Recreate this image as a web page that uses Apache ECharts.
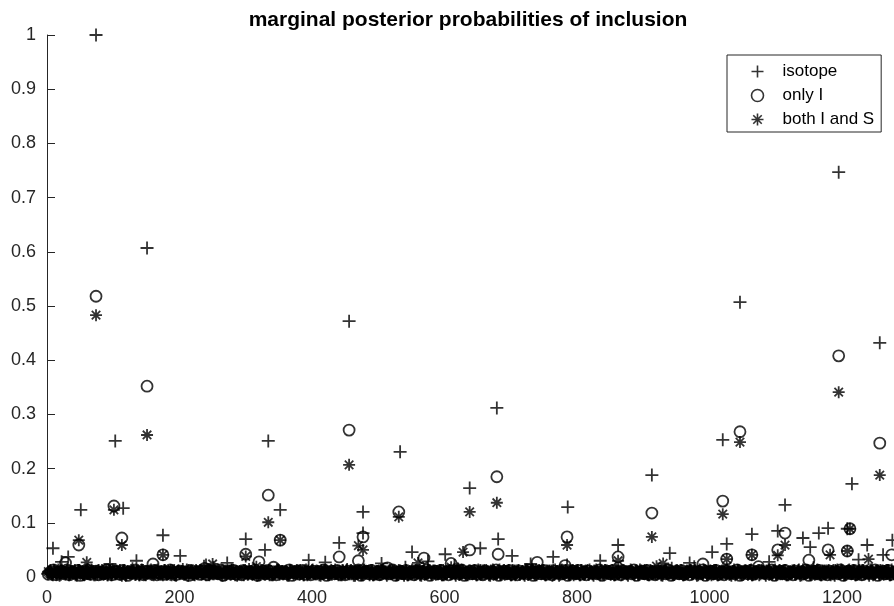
<!DOCTYPE html>
<html>
<head>
<meta charset="utf-8">
<script src="https://cdn.jsdelivr.net/npm/echarts@6/dist/echarts.min.js"></script>
<style>html,body{margin:0;padding:0;background:#fff}#chart{width:894px;height:606px}</style>
</head>
<body>
<div id="chart"></div>
<script>
// ---- data ----
const titleText = 'marginal posterior probabilities of inclusion';
const seriesNames = ['isotope', 'only I', 'both I and S'];
const xTicks = [0, 200, 400, 600, 800, 1000, 1200];

// prominent points (variable index, probability)
const isotopePeakX = [74, 151, 103, 334, 456, 533, 679, 1046, 1195, 1257, 1020, 913, 638, 786, 1114, 1215, 51, 115, 352, 477, 477, 9, 175, 300, 329, 32, 201, 441, 551, 601, 654, 681, 702, 764, 862, 940, 1004, 1026, 1064, 1103, 1141, 1152, 1165, 1179, 1208, 1238, 1262, 1276, 22, 95, 135, 240, 272, 395, 420, 505, 575, 730, 835, 970, 1090, 1225];
const isotopePeakY = [1.0, 0.607, 0.251, 0.251, 0.472, 0.231, 0.312, 0.507, 0.747, 0.432, 0.253, 0.188, 0.164, 0.129, 0.133, 0.172, 0.124, 0.127, 0.124, 0.120, 0.081, 0.053, 0.077, 0.070, 0.050, 0.037, 0.039, 0.063, 0.046, 0.042, 0.053, 0.070, 0.039, 0.037, 0.059, 0.044, 0.046, 0.061, 0.079, 0.085, 0.072, 0.055, 0.081, 0.090, 0.089, 0.059, 0.041, 0.068, 0.028, 0.024, 0.030, 0.022, 0.026, 0.031, 0.027, 0.025, 0.029, 0.024, 0.030, 0.026, 0.028, 0.032];

const onlyIPeakX = [74, 151, 456, 679, 334, 1195, 1046, 1257, 1020, 913, 101, 113, 531, 785, 477, 48, 175, 300, 352, 441, 638, 681, 569, 862, 1026, 1064, 1114, 1103, 1179, 1212, 1208, 1275, 28, 160, 320, 470, 610, 740, 990, 1150];
const onlyIPeakY = [0.518, 0.352, 0.271, 0.185, 0.151, 0.408, 0.268, 0.247, 0.140, 0.118, 0.131, 0.072, 0.120, 0.074, 0.074, 0.059, 0.041, 0.042, 0.068, 0.037, 0.050, 0.042, 0.035, 0.037, 0.033, 0.041, 0.081, 0.050, 0.050, 0.089, 0.048, 0.041, 0.026, 0.024, 0.028, 0.030, 0.025, 0.027, 0.024, 0.031];

const bothPeakX = [74, 151, 456, 334, 679, 638, 1195, 1046, 1257, 1020, 913, 101, 113, 531, 785, 477, 48, 175, 352, 628, 1026, 1064, 1114, 1182, 1212, 1208, 1103, 300, 470, 862, 1240, 60, 250, 560, 930];
const bothPeakY = [0.483, 0.262, 0.207, 0.101, 0.137, 0.120, 0.341, 0.249, 0.188, 0.116, 0.074, 0.124, 0.059, 0.111, 0.059, 0.050, 0.068, 0.041, 0.068, 0.046, 0.033, 0.041, 0.059, 0.041, 0.089, 0.048, 0.040, 0.038, 0.058, 0.030, 0.033, 0.027, 0.024, 0.026, 0.025];

// the dense band of near-zero probabilities (variables sampled every 4th index)
const bandStep = 4;
const isotopeBand = [
.006,.012,.004,.009,.013,.005,.008,.011,.004,.010,.007,.003,.012,.008,.005,.014,.006,.009,.004,.011,
.008,.005,.010,.013,.004,.009,.011,.006,.003,.012,.009,.007,.015,.005,.010,.008,.012,.004,.009,.013,
.004,.011,.006,.009,.012,.005,.008,.011,.004,.010,.007,.014,.008,.003,.011,.006,.012,.008,.005,.020,
.011,.004,.009,.013,.007,.010,.003,.011,.008,.005,.012,.009,.006,.011,.004,.008,.014,.007,.010,.003,
.008,.012,.005,.009,.011,.004,.007,.013,.008,.006,.011,.003,.010,.008,.012,.005,.009,.011,.004,.008,
.013,.006,.010,.003,.011,.008,.005,.012,.009,.007,.010,.004,.008,.014,.006,.010,.003,.011,.008,.005,
.010,.007,.012,.004,.009,.011,.006,.008,.003,.013,.008,.010,.005,.011,.007,.018,.004,.009,.011,.006,
.008,.003,.013,.008,.010,.005,.011,.007,.012,.004,.009,.011,.006,.008,.003,.014,.008,.010,.005,.011,
.007,.012,.004,.009,.011,.006,.008,.003,.013,.008,.010,.005,.011,.007,.012,.004,.009,.011,.006,.008,
.003,.013,.008,.010,.005,.011,.007,.012,.004,.009,.011,.006,.008,.003,.013,.008,.022,.005,.011,.007,
.012,.004,.009,.011,.006,.008,.003,.013,.008,.010,.005,.011,.007,.012,.004,.009,.011,.006,.008,.003,
.013,.008,.010,.005,.011,.007,.012,.004,.009,.011,.006,.008,.003,.013,.008,.010,.005,.011,.007,.012,
.004,.009,.011,.006,.019,.003,.013,.008,.010,.005,.011,.007,.012,.004,.009,.011,.006,.008,.003,.013,
.008,.010,.005,.011,.007,.012,.004,.009,.011,.006,.008,.003,.013,.008,.010,.005,.011,.007,.012,.004,
.009,.011,.006,.008,.003,.013,.008,.010,.005,.017,.007,.012,.004,.009,.011,.006,.008,.003,.013,.008,
.010,.005,.011,.007,.012,.004,.009,.011,.006,.008,.003,.013,.008,.010,.005,.011,.007,.012,.004,.009];
const isotopeBand2 = [
.009,.005,.012,.007,.003,.011,.008,.014,.006,.010,.004,.012,.009,.005,.011,.007,.013,.004,.010,.006,
.012,.008,.004,.010,.013,.006,.009,.005,.011,.003,.008,.012,.007,.010,.004,.013,.006,.009,.011,.005,
.007,.013,.009,.004,.010,.006,.012,.008,.003,.011,.009,.005,.013,.007,.010,.004,.008,.012,.006,.009,
.005,.010,.017,.008,.012,.004,.009,.006,.011,.013,.007,.003,.010,.008,.012,.005,.009,.006,.011,.004,
.012,.006,.009,.011,.004,.008,.013,.005,.010,.007,.003,.012,.009,.006,.011,.008,.004,.013,.007,.010,
.006,.011,.004,.008,.012,.009,.005,.010,.013,.007,.004,.011,.008,.006,.012,.003,.009,.010,.005,.013,
.009,.004,.012,.007,.010,.005,.013,.008,.006,.011,.009,.004,.012,.007,.003,.010,.008,.013,.005,.011,
.004,.010,.006,.013,.008,.011,.005,.009,.012,.004,.007,.010,.006,.021,.009,.005,.012,.008,.004,.011,
.010,.007,.013,.005,.009,.012,.004,.008,.011,.006,.013,.009,.005,.010,.007,.012,.004,.011,.008,.006,
.013,.005,.010,.008,.004,.012,.009,.006,.011,.007,.003,.013,.010,.005,.008,.012,.006,.009,.004,.011,
.007,.012,.005,.010,.013,.006,.008,.011,.004,.009,.012,.007,.005,.010,.013,.008,.004,.011,.006,.009,
.011,.004,.009,.013,.007,.010,.005,.012,.008,.006,.011,.004,.009,.013,.007,.016,.005,.012,.008,.010,
.005,.009,.012,.006,.011,.004,.008,.013,.010,.007,.004,.012,.009,.005,.011,.008,.013,.006,.010,.004,
.012,.008,.005,.011,.009,.013,.006,.010,.004,.012,.007,.009,.011,.005,.013,.008,.006,.010,.012,.004,
.008,.011,.006,.013,.004,.009,.012,.007,.010,.005,.013,.008,.011,.006,.009,.004,.012,.010,.007,.013,
.004,.010,.013,.007,.011,.005,.009,.012,.006,.008,.013,.004,.010,.011,.007,.005,.012,.009,.013,.006];
const onlyIBand = [
.005,.010,.013,.004,.008,.011,.006,.013,.004,.009,.007,.012,.003,.010,.006,.012,.005,.008,.011,.004,
.009,.006,.013,.007,.004,.011,.010,.005,.012,.007,.003,.010,.008,.013,.006,.009,.004,.011,.007,.010,
.012,.004,.007,.010,.005,.009,.013,.007,.004,.010,.011,.006,.008,.003,.012,.007,.010,.005,.009,.016,
.004,.011,.007,.010,.006,.013,.003,.008,.011,.006,.012,.005,.009,.004,.011,.007,.010,.006,.013,.003,
.008,.011,.006,.012,.005,.018,.004,.011,.007,.010,.006,.013,.003,.008,.011,.006,.012,.005,.009,.004,
.011,.007,.010,.006,.013,.003,.008,.011,.006,.012,.005,.009,.004,.011,.007,.010,.006,.013,.003,.008,
.011,.006,.012,.005,.009,.004,.011,.007,.017,.006,.013,.003,.008,.011,.006,.012,.005,.009,.004,.011,
.007,.010,.006,.013,.003,.008,.011,.006,.012,.005,.009,.004,.011,.007,.010,.006,.013,.003,.008,.011,
.006,.012,.005,.009,.004,.011,.007,.010,.006,.013,.003,.008,.011,.006,.012,.005,.009,.004,.011,.007,
.010,.006,.013,.003,.008,.011,.006,.012,.005,.009,.004,.011,.007,.010,.006,.021,.003,.008,.011,.006,
.012,.005,.009,.004,.011,.007,.010,.006,.013,.003,.008,.011,.006,.012,.005,.009,.004,.011,.007,.010,
.006,.013,.003,.008,.011,.006,.012,.005,.009,.004,.011,.007,.010,.006,.013,.003,.008,.011,.006,.012,
.005,.009,.004,.011,.007,.010,.006,.013,.003,.008,.011,.006,.012,.005,.009,.004,.011,.007,.010,.006,
.013,.003,.008,.011,.006,.012,.005,.009,.019,.011,.007,.010,.006,.013,.003,.008,.011,.006,.012,.005,
.009,.004,.011,.007,.010,.006,.013,.003,.008,.011,.006,.012,.005,.009,.004,.011,.007,.010,.006,.013,
.003,.008,.011,.006,.012,.005,.009,.004,.011,.007,.010,.006,.013,.003,.008,.011,.006,.012,.005,.009];
const bothBand = [
.007,.004,.011,.006,.012,.009,.004,.011,.007,.010,.005,.013,.008,.003,.011,.006,.012,.007,.004,.010,
.011,.006,.003,.013,.009,.005,.010,.007,.012,.004,.010,.006,.011,.008,.003,.013,.006,.010,.005,.009,
.012,.007,.004,.010,.006,.011,.003,.013,.008,.005,.010,.006,.012,.009,.004,.010,.007,.011,.006,.003,
.013,.008,.005,.010,.006,.012,.004,.009,.011,.007,.003,.010,.006,.013,.008,.005,.010,.006,.019,.004,
.009,.011,.007,.003,.010,.006,.013,.008,.005,.010,.006,.012,.004,.009,.011,.007,.003,.010,.006,.013,
.008,.005,.010,.006,.012,.004,.009,.011,.007,.003,.010,.006,.013,.008,.005,.010,.006,.012,.004,.009,
.011,.007,.003,.010,.006,.013,.008,.005,.010,.006,.012,.004,.009,.011,.007,.003,.010,.006,.013,.008,
.005,.010,.006,.012,.004,.009,.011,.007,.003,.010,.006,.013,.008,.005,.016,.006,.012,.004,.009,.011,
.007,.003,.010,.006,.013,.008,.005,.010,.006,.012,.004,.009,.011,.007,.003,.010,.006,.013,.008,.005,
.010,.006,.012,.004,.009,.011,.007,.003,.010,.006,.013,.008,.005,.010,.006,.012,.004,.009,.011,.007,
.003,.010,.006,.013,.008,.005,.010,.006,.012,.004,.009,.011,.007,.003,.010,.006,.013,.008,.005,.010,
.006,.012,.004,.009,.011,.007,.003,.010,.006,.020,.008,.005,.010,.006,.012,.004,.009,.011,.007,.003,
.010,.006,.013,.008,.005,.010,.006,.012,.004,.009,.011,.007,.003,.010,.006,.013,.008,.005,.010,.006,
.012,.004,.009,.011,.007,.003,.010,.006,.013,.008,.005,.010,.006,.012,.004,.009,.011,.007,.003,.010,
.006,.013,.008,.005,.010,.006,.012,.004,.009,.011,.007,.003,.010,.006,.013,.008,.005,.010,.006,.012,
.004,.009,.011,.007,.003,.010,.006,.013,.008,.005,.010,.006,.012,.004,.009,.011,.007,.003,.010,.006];
const bothBand2 = [
.010,.006,.013,.004,.009,.012,.007,.011,.005,.008,.013,.006,.010,.004,.012,.009,.005,.011,.007,.013,
.005,.011,.008,.012,.004,.010,.006,.013,.009,.005,.011,.007,.012,.004,.009,.013,.006,.010,.008,.004,
.012,.007,.010,.005,.013,.009,.004,.011,.006,.012,.008,.010,.005,.013,.007,.004,.011,.009,.012,.006,
.009,.013,.005,.011,.007,.010,.012,.004,.008,.013,.006,.011,.009,.005,.012,.007,.010,.004,.013,.008,
.004,.010,.012,.007,.011,.005,.009,.013,.006,.010,.004,.012,.008,.011,.005,.013,.007,.009,.012,.006,
.011,.005,.008,.013,.006,.012,.010,.004,.009,.011,.007,.013,.005,.010,.012,.006,.008,.011,.004,.013,
.007,.012,.009,.005,.011,.004,.013,.008,.010,.006,.012,.009,.004,.011,.007,.013,.005,.010,.008,.012,
.013,.008,.004,.010,.012,.007,.011,.005,.009,.013,.006,.010,.018,.008,.012,.004,.011,.007,.009,.005,
.006,.011,.009,.013,.005,.010,.007,.012,.004,.009,.011,.006,.013,.008,.010,.005,.012,.007,.004,.011,
.012,.004,.010,.007,.013,.006,.009,.011,.005,.012,.008,.004,.010,.013,.006,.011,.009,.005,.012,.007,
.008,.013,.006,.011,.004,.009,.012,.007,.010,.005,.013,.008,.011,.006,.004,.012,.009,.013,.007,.010,
.011,.007,.012,.005,.010,.013,.004,.009,.011,.006,.008,.012,.005,.010,.013,.007,.004,.011,.009,.006,
.005,.012,.009,.006,.013,.008,.010,.004,.012,.007,.011,.005,.013,.009,.006,.010,.012,.004,.008,.011,
.013,.006,.010,.012,.004,.011,.008,.005,.013,.009,.007,.012,.004,.010,.011,.006,.013,.008,.005,.009,
.007,.010,.004,.013,.009,.005,.012,.010,.006,.011,.013,.004,.008,.012,.007,.010,.005,.013,.009,.011,
.010,.005,.012,.008,.011,.006,.013,.004,.009,.012,.007,.011,.005,.010,.013,.006,.009,.012,.004,.008];

// ---- build ----
function bandPoints(band, start) {
  return band.map((v, i) => [start + i * bandStep, v]);
}
function peakPoints(px, py) {
  return px.map((x, i) => [x, py[i]]);
}
const isotopeData = bandPoints(isotopeBand, 1).concat(bandPoints(isotopeBand2, 3), peakPoints(isotopePeakX, isotopePeakY));
const onlyIData = bandPoints(onlyIBand, 2).concat(peakPoints(onlyIPeakX, onlyIPeakY));
const bothData = bandPoints(bothBand, 4).concat(bandPoints(bothBand2, 2), peakPoints(bothPeakX, bothPeakY));

const plusPath = 'path://M6,0L6,12M0,6L12,6';
const starPath = 'path://M6,0L6,12M0,6L12,6M1.76,1.76L10.24,10.24M1.76,10.24L10.24,1.76';
const font = 'Liberation Sans, Arial, Helvetica, sans-serif';
const ink = '#262626';
const mk = {color: 'none', borderColor: '#000', borderWidth: 1.8};
const mkLegend = {color: 'none', borderColor: '#000', borderWidth: 1.6};

const chart = echarts.init(document.getElementById('chart'), null, {renderer: 'canvas'});
chart.setOption({
  animation: false,
  backgroundColor: '#fff',
  title: {
    text: titleText, left: 468, top: 10, padding: 0, textAlign: 'center',
    textStyle: {fontFamily: font, fontSize: 21, fontWeight: 'bold', color: '#000'}
  },
  legend: {
    orient: 'vertical', left: 727, top: 55, padding: [8, 7, 4, 22],
    itemWidth: 40, itemHeight: 12, itemGap: 7,
    borderColor: ink, borderWidth: 1, backgroundColor: '#fff',
    textStyle: {fontFamily: font, fontSize: 17, color: '#000'},
    selectedMode: false,
    data: [
      {name: seriesNames[0], icon: plusPath, itemStyle: mkLegend},
      {name: seriesNames[1], icon: 'circle', itemStyle: mkLegend},
      {name: seriesNames[2], icon: starPath, itemStyle: mkLegend}
    ]
  },
  grid: {left: 47, top: 35, width: 861.25, height: 542, containLabel: false, outerBoundsMode: 'none'},
  xAxis: {
    type: 'value', min: 0, max: 1300, interval: 200,
    axisLine: {show: true, lineStyle: {color: ink, width: 1}},
    axisTick: {show: true, inside: true, length: 8, lineStyle: {color: ink}},
    axisLabel: {fontFamily: font, fontSize: 18, color: ink, margin: 12, showMaxLabel: false,
      formatter: v => xTicks.indexOf(v) >= 0 ? String(v) : ''},
    splitLine: {show: false}
  },
  yAxis: {
    type: 'value', min: 0, max: 1, interval: 0.1,
    axisLine: {show: true, lineStyle: {color: ink, width: 1}},
    axisTick: {show: true, inside: true, length: 8, lineStyle: {color: ink}},
    axisLabel: {fontFamily: font, fontSize: 18, color: ink, margin: 11,
      formatter: v => String(Math.round(v * 10) / 10)},
    splitLine: {show: false}
  },
  series: [
    {name: seriesNames[0], type: 'scatter', symbol: plusPath, symbolSize: 13, data: isotopeData,
      itemStyle: mk, emphasis: {disabled: true}, silent: true},
    {name: seriesNames[1], type: 'scatter', symbol: 'circle', symbolSize: 11, data: onlyIData,
      itemStyle: mk, emphasis: {disabled: true}, silent: true},
    {name: seriesNames[2], type: 'scatter', symbol: starPath, symbolSize: 12, data: bothData,
      itemStyle: mk, emphasis: {disabled: true}, silent: true}
  ]
});
</script>
</body>
</html>
